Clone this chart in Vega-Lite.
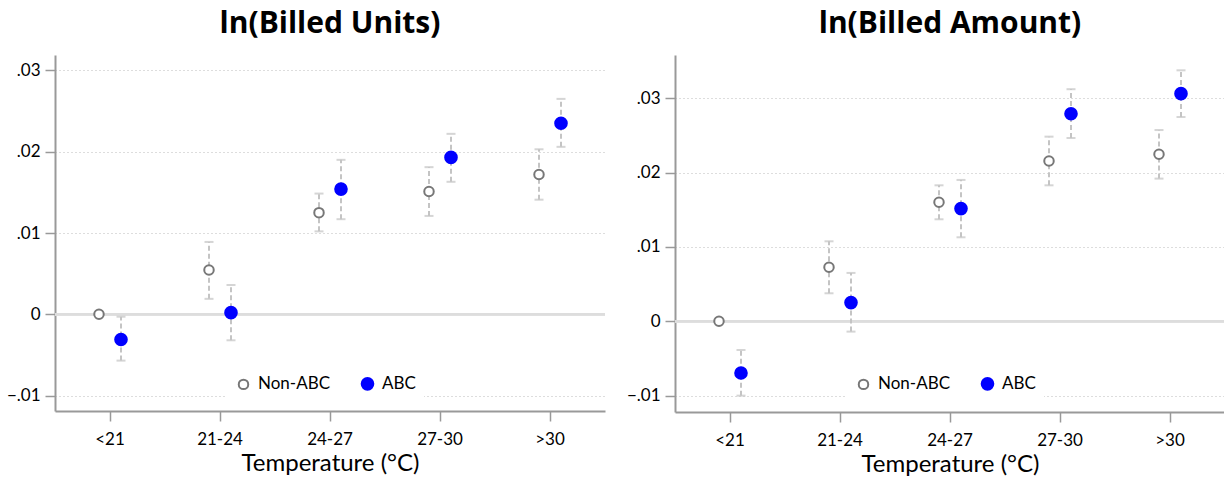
{
  "$schema": "https://vega.github.io/schema/vega-lite/v6.json",
  "background": "white",
  "padding": {"left": 6, "top": 9, "right": 0, "bottom": 0},
  "spacing": 20,
  "config": {
    "font": "Lato",
    "view": {"stroke": null},
    "title": {"fontSize": 30, "font": "Open Sans", "fontWeight": "bold", "color": "#000", "offset": 16, "anchor": "middle"},
    "axis": {"labelFontSize": 17, "labelColor": "#000", "titleColor": "#000", "titleFontWeight": "normal", "domainColor": "#999", "domainWidth": 2, "tickColor": "#999", "tickWidth": 1.5, "tickSize": 10}
  },
  "data": {
    "values": [
      {"panel": "units", "temp": "<21", "group": "Non-ABC", "est": 0, "lo": null, "hi": null},
      {"panel": "units", "temp": "<21", "group": "ABC", "est": -0.0031, "lo": -0.0057, "hi": -0.0003},
      {"panel": "units", "temp": "21-24", "group": "Non-ABC", "est": 0.00545, "lo": 0.0019, "hi": 0.0089},
      {"panel": "units", "temp": "21-24", "group": "ABC", "est": 0.0002, "lo": -0.0032, "hi": 0.0036},
      {"panel": "units", "temp": "24-27", "group": "Non-ABC", "est": 0.0125, "lo": 0.0102, "hi": 0.01485},
      {"panel": "units", "temp": "24-27", "group": "ABC", "est": 0.0154, "lo": 0.0117, "hi": 0.019},
      {"panel": "units", "temp": "27-30", "group": "Non-ABC", "est": 0.0151, "lo": 0.0121, "hi": 0.0181},
      {"panel": "units", "temp": "27-30", "group": "ABC", "est": 0.0193, "lo": 0.0163, "hi": 0.0222},
      {"panel": "units", "temp": ">30", "group": "Non-ABC", "est": 0.0172, "lo": 0.0141, "hi": 0.0203},
      {"panel": "units", "temp": ">30", "group": "ABC", "est": 0.0235, "lo": 0.0206, "hi": 0.0265},
      {"panel": "amount", "temp": "<21", "group": "Non-ABC", "est": 0, "lo": null, "hi": null},
      {"panel": "amount", "temp": "<21", "group": "ABC", "est": -0.00695, "lo": -0.0100, "hi": -0.00386},
      {"panel": "amount", "temp": "21-24", "group": "Non-ABC", "est": 0.00726, "lo": 0.00376, "hi": 0.01075},
      {"panel": "amount", "temp": "21-24", "group": "ABC", "est": 0.00251, "lo": -0.00139, "hi": 0.0065},
      {"panel": "amount", "temp": "24-27", "group": "Non-ABC", "est": 0.016, "lo": 0.01371, "hi": 0.01828},
      {"panel": "amount", "temp": "24-27", "group": "ABC", "est": 0.01515, "lo": 0.01129, "hi": 0.019},
      {"panel": "amount", "temp": "27-30", "group": "Non-ABC", "est": 0.02155, "lo": 0.01828, "hi": 0.02482},
      {"panel": "amount", "temp": "27-30", "group": "ABC", "est": 0.0279, "lo": 0.02464, "hi": 0.0312},
      {"panel": "amount", "temp": ">30", "group": "Non-ABC", "est": 0.02245, "lo": 0.01918, "hi": 0.02571},
      {"panel": "amount", "temp": ">30", "group": "ABC", "est": 0.0306, "lo": 0.02746, "hi": 0.03374}
    ]
  },
  "hconcat": [
    {
      "title": "ln(Billed Units)",
      "width": 550,
      "height": 356,
      "transform": [{"filter": "datum.panel == 'units'"}],
      "encoding": {
        "x": {"field": "temp", "type": "ordinal", "sort": ["<21", "21-24", "24-27", "27-30", ">30"],
              "scale": {"type": "band", "paddingInner": 0, "paddingOuter": 0},
              "axis": {"labelAngle": 0, "title": "Temperature (°C)", "titleFontSize": 24, "labelPadding": 10, "titlePadding": 4}},
        "xOffset": {"field": "group", "type": "nominal", "sort": ["Non-ABC", "ABC"], "scale": {"type": "point", "range": [44, 66], "padding": 0}}
      },
      "layer": [
        {
          "mark": {"type": "rule", "color": "#dddddd", "strokeWidth": 2},
          "encoding": {"x": null, "xOffset": null, "y": {"datum": 0, "type": "quantitative"}}
        },
        {
          "transform": [{"filter": "datum.lo != null"}],
          "mark": {"type": "rule", "color": "#c4c4c4", "strokeWidth": 2, "strokeDash": [5, 3]},
          "encoding": {
            "y": {"field": "lo", "type": "quantitative", "scale": {"domain": [-0.0119, 0.0319], "nice": false, "zero": false},
                  "axis": {"values": [-0.01, 0, 0.01, 0.02, 0.03], "title": null, "labelExpr": "datum.value == 0 ? '0' : replace(format(datum.value, '.2f'), '0.', '.')", "grid": true, "gridDash": [1, 3], "gridColor": "#bbbbbb", "labelPadding": 5}},
            "y2": {"field": "hi"}
          }
        },
        {
          "transform": [{"filter": "datum.lo != null"}],
          "mark": {"type": "point", "shape": "stroke", "color": "#c4c4c4", "strokeWidth": 2, "size": 81, "filled": false},
          "encoding": {"y": {"field": "lo", "type": "quantitative"}}
        },
        {
          "transform": [{"filter": "datum.hi != null"}],
          "mark": {"type": "point", "shape": "stroke", "color": "#c4c4c4", "strokeWidth": 2, "size": 81, "filled": false},
          "encoding": {"y": {"field": "hi", "type": "quantitative"}}
        },
        {
          "mark": {"type": "point", "shape": "circle", "strokeWidth": 2, "opacity": 1},
          "encoding": {
            "y": {"field": "est", "type": "quantitative"},
            "fill": {"field": "group", "type": "nominal", "scale": {"domain": ["Non-ABC", "ABC"], "range": ["white", "#0000ff"]},
                     "legend": {"orient": "none", "legendX": 172, "legendY": 312, "direction": "horizontal", "title": null, "fillColor": "white", "padding": 8, "labelFontSize": 17, "labelColor": "#000", "columnPadding": 26, "symbolStrokeWidth": 2, "labelOffset": 6}},
            "stroke": {"field": "group", "type": "nominal", "scale": {"domain": ["Non-ABC", "ABC"], "range": ["#777777", "#0000ff"]}},
            "size": {"field": "group", "type": "nominal", "scale": {"domain": ["Non-ABC", "ABC"], "range": [90, 135]}}
          }
        }
      ]
    },
    {
      "title": "ln(Billed Amount)",
      "width": 550,
      "height": 357,
      "transform": [{"filter": "datum.panel == 'amount'"}],
      "encoding": {
        "x": {"field": "temp", "type": "ordinal", "sort": ["<21", "21-24", "24-27", "27-30", ">30"],
              "scale": {"type": "band", "paddingInner": 0, "paddingOuter": 0},
              "axis": {"labelAngle": 0, "title": "Temperature (°C)", "titleFontSize": 24, "labelPadding": 10, "titlePadding": 4}},
        "xOffset": {"field": "group", "type": "nominal", "sort": ["Non-ABC", "ABC"], "scale": {"type": "point", "range": [44, 66], "padding": 0}}
      },
      "layer": [
        {
          "mark": {"type": "rule", "color": "#dddddd", "strokeWidth": 2},
          "encoding": {"x": null, "xOffset": null, "y": {"datum": 0, "type": "quantitative"}}
        },
        {
          "transform": [{"filter": "datum.lo != null"}],
          "mark": {"type": "rule", "color": "#c4c4c4", "strokeWidth": 2, "strokeDash": [5, 3]},
          "encoding": {
            "y": {"field": "lo", "type": "quantitative", "scale": {"domain": [-0.0122, 0.0358], "nice": false, "zero": false},
                  "axis": {"values": [-0.01, 0, 0.01, 0.02, 0.03], "title": null, "labelExpr": "datum.value == 0 ? '0' : replace(format(datum.value, '.2f'), '0.', '.')", "grid": true, "gridDash": [1, 3], "gridColor": "#bbbbbb", "labelPadding": 5}},
            "y2": {"field": "hi"}
          }
        },
        {
          "transform": [{"filter": "datum.lo != null"}],
          "mark": {"type": "point", "shape": "stroke", "color": "#c4c4c4", "strokeWidth": 2, "size": 81, "filled": false},
          "encoding": {"y": {"field": "lo", "type": "quantitative"}}
        },
        {
          "transform": [{"filter": "datum.hi != null"}],
          "mark": {"type": "point", "shape": "stroke", "color": "#c4c4c4", "strokeWidth": 2, "size": 81, "filled": false},
          "encoding": {"y": {"field": "hi", "type": "quantitative"}}
        },
        {
          "mark": {"type": "point", "shape": "circle", "strokeWidth": 2, "opacity": 1},
          "encoding": {
            "y": {"field": "est", "type": "quantitative"},
            "fill": {"field": "group", "type": "nominal", "scale": {"domain": ["Non-ABC", "ABC"], "range": ["white", "#0000ff"]},
                     "legend": {"orient": "none", "legendX": 172, "legendY": 312, "direction": "horizontal", "title": null, "fillColor": "white", "padding": 8, "labelFontSize": 17, "labelColor": "#000", "columnPadding": 26, "symbolStrokeWidth": 2, "labelOffset": 6}},
            "stroke": {"field": "group", "type": "nominal", "scale": {"domain": ["Non-ABC", "ABC"], "range": ["#777777", "#0000ff"]}},
            "size": {"field": "group", "type": "nominal", "scale": {"domain": ["Non-ABC", "ABC"], "range": [90, 135]}}
          }
        }
      ]
    }
  ],
  "resolve": {"scale": {"y": "independent", "fill": "independent", "stroke": "independent", "size": "independent"}, "legend": {"fill": "independent", "stroke": "independent", "size": "independent"}}
}
